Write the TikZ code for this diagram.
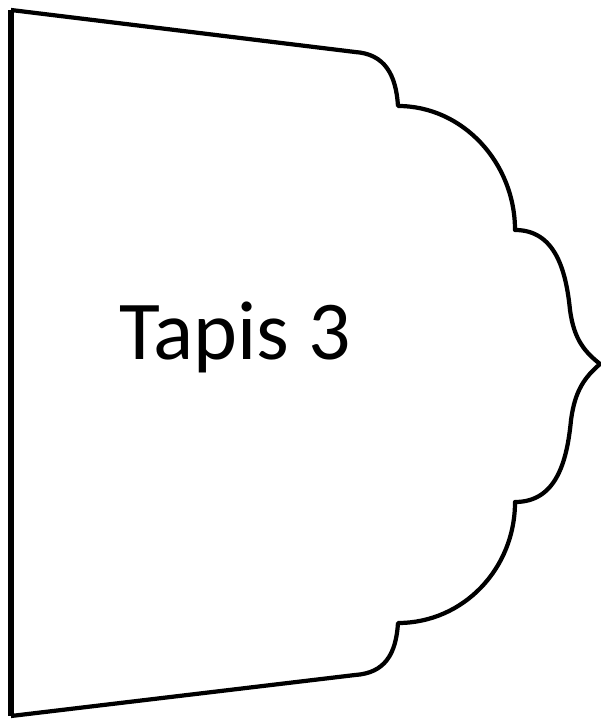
\documentclass[tikz,border=0pt]{standalone}
\usepackage{fontspec}
\setmainfont{Carlito}
\usepackage{tikz}
\usetikzlibrary{calc}

\begin{document}
\begin{tikzpicture}[x=0.01cm,y=-0.01cm]

\useasboundingbox (0,0) rectangle (601,722);
\draw[line width=1.5pt] (11,10) -- (11,716);
\draw[line width=1.2pt, line join=round] (11,10) -- (355,52) .. controls (385,54) and (396,75) .. (398,106) .. controls (463,106) and (515,163) .. (515,230) .. controls (555,230) and (566,270) .. (570,310) .. controls (574,340) and (585,352) .. (600,364) .. controls (585,377) and (575,390) .. (571,420) .. controls (567,462) and (556,502) .. (515,502) .. controls (515,569) and (463,623) .. (398,623) .. controls (396,654) and (385,673) .. (355,675) -- (11,716);
\node[anchor=base, inner sep=0pt] (tapis) at (235,360) {\fontsize{23.8}{28}\selectfont Tapis 3};

\end{tikzpicture}
\end{document}
